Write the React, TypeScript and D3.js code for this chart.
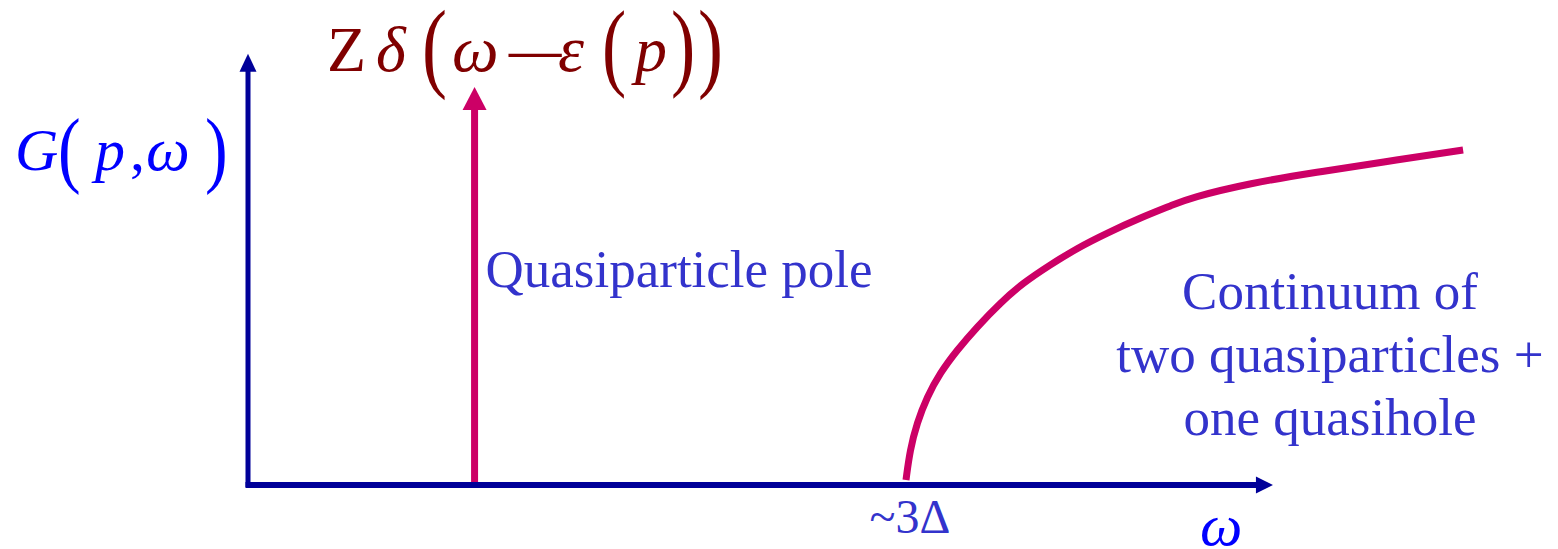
import React from 'react'
import * as d3 from 'd3'

// continuum branch of the spectral function (ω in units of Δ)
const omega = [3.0, 3.018, 3.05, 3.096, 3.155, 3.233, 3.324, 3.429, 3.533, 3.657, 3.78, 3.916,
  4.067, 4.217, 4.295, 4.568, 4.874, 5.175, 5.54]
const spectral = [0.015, 0.104, 0.185, 0.263, 0.334, 0.403, 0.472, 0.543, 0.603, 0.657, 0.707, 0.752,
  0.797, 0.836, 0.857, 0.901, 0.934, 0.964, 1.0]

const polePosition = 1.033
const poleHeight = 1.188
const axisMax = { x: 4.673, y: 1.287 }
const thresholdLabel = '~3Δ'
const poleLabel = 'Quasiparticle pole'
const continuumLines = ['Continuum of', 'two quasiparticles +', 'one quasihole']

const W = 1558
const H = 549
const serif = "'Liberation Serif', 'Times New Roman', serif"

const axisColor = '#000099'
const pink = '#cc0066'
const textBlue = '#3333cc'
const formulaRed = '#800000'
const pure = '#0000ff'

// horizontal squeeze/stretch of a glyph about a given x
const sx = (x0: number, k: number) => `translate(${x0},0) scale(${k},1) translate(${-x0},0)`

export default function App() {
  const x = d3.scaleLinear().domain([0, 3]).range([248, 906])
  const y = d3.scaleLinear().domain([0, 1]).range([485, 150])

  const pts = omega.map((w, i) => [w, spectral[i]] as [number, number])
  // basis smooths out the reading noise of the hand-read points
  const line = d3.line<[number, number]>()
    .x(d => x(d[0]))
    .y(d => y(d[1]))
    .curve(d3.curveBasis)

  // arrow heads
  const upHead = (cx: number, tip: number, w: number, h: number) =>
    `M${cx},${tip} L${cx + w / 2},${tip + h} L${cx - w / 2},${tip + h} Z`
  const rightHead = (tip: number, cy: number, l: number, w: number) =>
    `M${tip},${cy} L${tip - l},${cy - w / 2} L${tip - l},${cy + w / 2} Z`

  const x0 = x(0)
  const y0 = y(0)
  const yTop = y(axisMax.y)
  const xEnd = x(axisMax.x)
  const px = x(polePosition)
  const pTip = y(poleHeight)

  return (
    <svg width={W} height={H} style={{ position: 'absolute', left: 0, top: 0, background: '#fff' }}
      fontFamily={serif}>
      {/* axes */}
      <line x1={x0} y1={y0 + 2} x2={x0} y2={yTop + 17} stroke={axisColor} strokeWidth={5} />
      <path d={upHead(x0, yTop, 17, 18)} fill={axisColor} />
      <line x1={x0 - 2.5} y1={y0} x2={xEnd - 15} y2={y0} stroke={axisColor} strokeWidth={6} />
      <path d={rightHead(xEnd, y0, 17, 17)} fill={axisColor} />

      {/* quasiparticle pole */}
      <line x1={px} y1={y0 - 3} x2={px} y2={pTip + 21} stroke={pink} strokeWidth={7} />
      <path d={upHead(px, pTip, 24, 23)} fill={pink} />

      {/* continuum */}
      <path d={line(pts) ?? ''} fill="none" stroke={pink} strokeWidth={7} />

      {/* G(p,ω) */}
      <g fill={pure}>
        <text x={15} y={170} fontSize={60} fontStyle="italic">G</text>
        <text x={58} y={177} fontSize={85} transform={sx(58, 0.8)}>(</text>
        <text x={95} y={170} fontSize={60} fontStyle="italic">p</text>
        <text x={130} y={170} fontSize={60}>,</text>
        <text x={146} y={170} fontSize={62} fontStyle="italic">ω</text>
        <text x={205} y={177} fontSize={85} transform={sx(205, 0.8)}>)</text>
      </g>

      {/* Zδ(ω−ε(p)) */}
      <g fill={formulaRed}>
        <text x={327} y={71} fontSize={64}>Z</text>
        <text x={376} y={71} fontSize={64} fontStyle="italic">δ</text>
        <text x={422} y={79} fontSize={100} transform={sx(422, 0.75)}>(</text>
        <text x={452} y={71} fontSize={66} fontStyle="italic">ω</text>
        <text x={505} y={76} fontSize={62} transform={sx(507.6, 1.85)}>−</text>
        <text x={558} y={71} fontSize={66} fontStyle="italic">ε</text>
        <text x={602} y={78} fontSize={97} transform={sx(602, 0.75)}>(</text>
        <text x={635} y={71} fontSize={64} fontStyle="italic">p</text>
        <text x={671} y={78} fontSize={97} transform={sx(671, 0.75)}>)</text>
        <text x={698} y={79} fontSize={100} transform={sx(698, 0.75)}>)</text>
      </g>

      {/* labels */}
      <text x={px + 11} y={287} fontSize={53} fill={textBlue}>{poleLabel}</text>
      {continuumLines.map((t, i) => (
        <text key={t} x={1330} y={309 + i * 63} fontSize={53} fill={textBlue} textAnchor="middle">{t}</text>
      ))}
      <text x={x(3) + 4} y={533} fontSize={48} fill={textBlue} textAnchor="middle">{thresholdLabel}</text>
      <text x={1200} y={545} fontSize={60} fill={pure} fontStyle="italic">ω</text>
    </svg>
  )
}
